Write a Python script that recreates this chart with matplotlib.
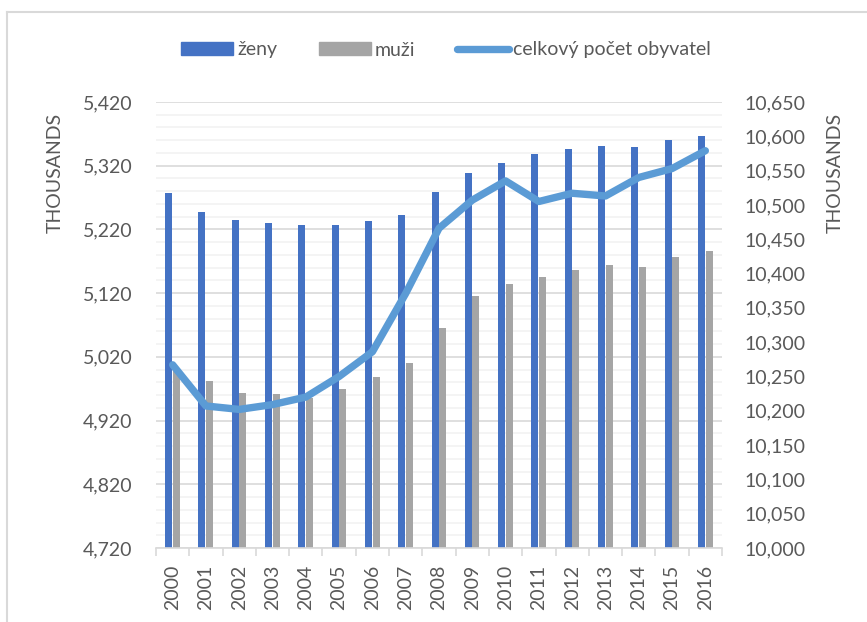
import matplotlib
matplotlib.use("Agg")
import matplotlib.pyplot as plt
from matplotlib.lines import Line2D
from matplotlib.patches import Patch
from matplotlib.ticker import FixedLocator, FuncFormatter
import numpy as np

years = [str(y) for y in range(2000, 2017)]
zeny = [5277, 5248, 5235, 5230, 5227, 5227, 5233, 5243, 5278, 5308,
        5325, 5338, 5347, 5351, 5349, 5360, 5367]
muzi = [4998, 4982, 4964, 4961, 4955, 4969, 4989, 5010, 5065, 5116,
        5135, 5146, 5157, 5164, 5161, 5176, 5186]
celkem = [10267, 10207, 10202, 10209, 10220, 10250, 10286, 10371, 10466, 10507,
          10535, 10505, 10517, 10513, 10540, 10553, 10579]
left_ticks = [4720, 4820, 4920, 5020, 5120, 5220, 5320, 5420]
right_ticks = list(range(10000, 10651, 50))

plt.rcParams['font.family'] = ['Lato', 'DejaVu Sans']
TXT = '#595959'
W, H = 867, 622
fig = plt.figure(figsize=(W / 100, H / 100), dpi=100)
fig.patch.set_facecolor('white')

ax = fig.add_axes([156 / W, (H - 548) / H, (722 - 156) / W, (548 - 102) / H])
x = np.arange(len(years))
bw = 0.21
ax.bar(x - 0.12, zeny, width=bw, color='#4472C4', zorder=2)
ax.bar(x + 0.11, muzi, width=bw, color='#A5A5A5', zorder=2)
ax.set_ylim(4720, 5420)
ax.set_xlim(-0.5, len(years) - 0.5)
ax.yaxis.set_major_locator(FixedLocator(left_ticks))
ax.yaxis.set_minor_locator(FixedLocator(np.arange(4720, 5421, 20)))
ax.yaxis.set_major_formatter(FuncFormatter(lambda v, p: f"{int(v):,}"))
ax.grid(axis='y', which='minor', color='#F2F2F2', lw=1.2, zorder=0)
ax.grid(axis='y', which='major', color='#D9D9D9', lw=1.2, zorder=0)
ax.set_axisbelow(True)
ax.tick_params(axis='y', which='both', length=0, pad=17, labelsize=14, labelcolor=TXT)
ax.set_xticks(x)
ax.set_xticklabels(years, rotation=90)
ax.set_xticks(np.arange(-0.5, len(years)), minor=True)
ax.tick_params(axis='x', which='major', length=0, pad=12, labelsize=14, labelcolor=TXT)
ax.tick_params(axis='x', which='minor', length=5.5, width=1.2, color='#D9D9D9')
for s in ['left', 'right', 'top']:
    ax.spines[s].set_visible(False)
ax.spines['bottom'].set_color('#D9D9D9')
ax.spines['bottom'].set_linewidth(1.2)

ax2 = ax.twinx()
ax2.plot(x, celkem, color='#5B9BD5', lw=5.3, solid_joinstyle='round',
         solid_capstyle='round', zorder=3)
ax2.set_ylim(10000, 10650)
ax2.yaxis.set_major_locator(FixedLocator(right_ticks))
ax2.yaxis.set_major_formatter(FuncFormatter(lambda v, p: f"{int(v):,}"))
ax2.tick_params(axis='y', length=0, pad=16.5, labelsize=14, labelcolor=TXT)
for s in ['left', 'right', 'top', 'bottom']:
    ax2.spines[s].set_visible(False)

fig.text(55 / W, 1 - 173 / H, 'THOUSANDS', rotation=90, ha='center', va='center',
         fontsize=14, color=TXT)
fig.text(835 / W, 1 - 173 / H, 'THOUSANDS', rotation=90, ha='center', va='center',
         fontsize=14, color=TXT)

handles = [Patch(color='#4472C4'), Patch(color='#A5A5A5'),
           Line2D([0], [0], color='#5B9BD5', lw=5.3, solid_capstyle='round')]
fig.legend(handles, ['ženy', 'muži', 'celkový počet obyvatel'], loc='center',
           bbox_to_anchor=(446 / W, 1 - 50 / H), ncol=3, frameon=False,
           fontsize=14, labelcolor=TXT, handlelength=2.68, handleheight=0.67,
           handletextpad=0.2, columnspacing=2.15, borderaxespad=0, borderpad=0)

fig.add_artist(Line2D([7 / W, 1], [1 - 12 / H, 1 - 12 / H], color='#D9D9D9', lw=1.5,
                      transform=fig.transFigure))
fig.add_artist(Line2D([7 / W, 7 / W], [0, 1 - 12 / H], color='#D9D9D9', lw=1.5,
                      transform=fig.transFigure))

fig.savefig('out.png', dpi=100, facecolor='white')
